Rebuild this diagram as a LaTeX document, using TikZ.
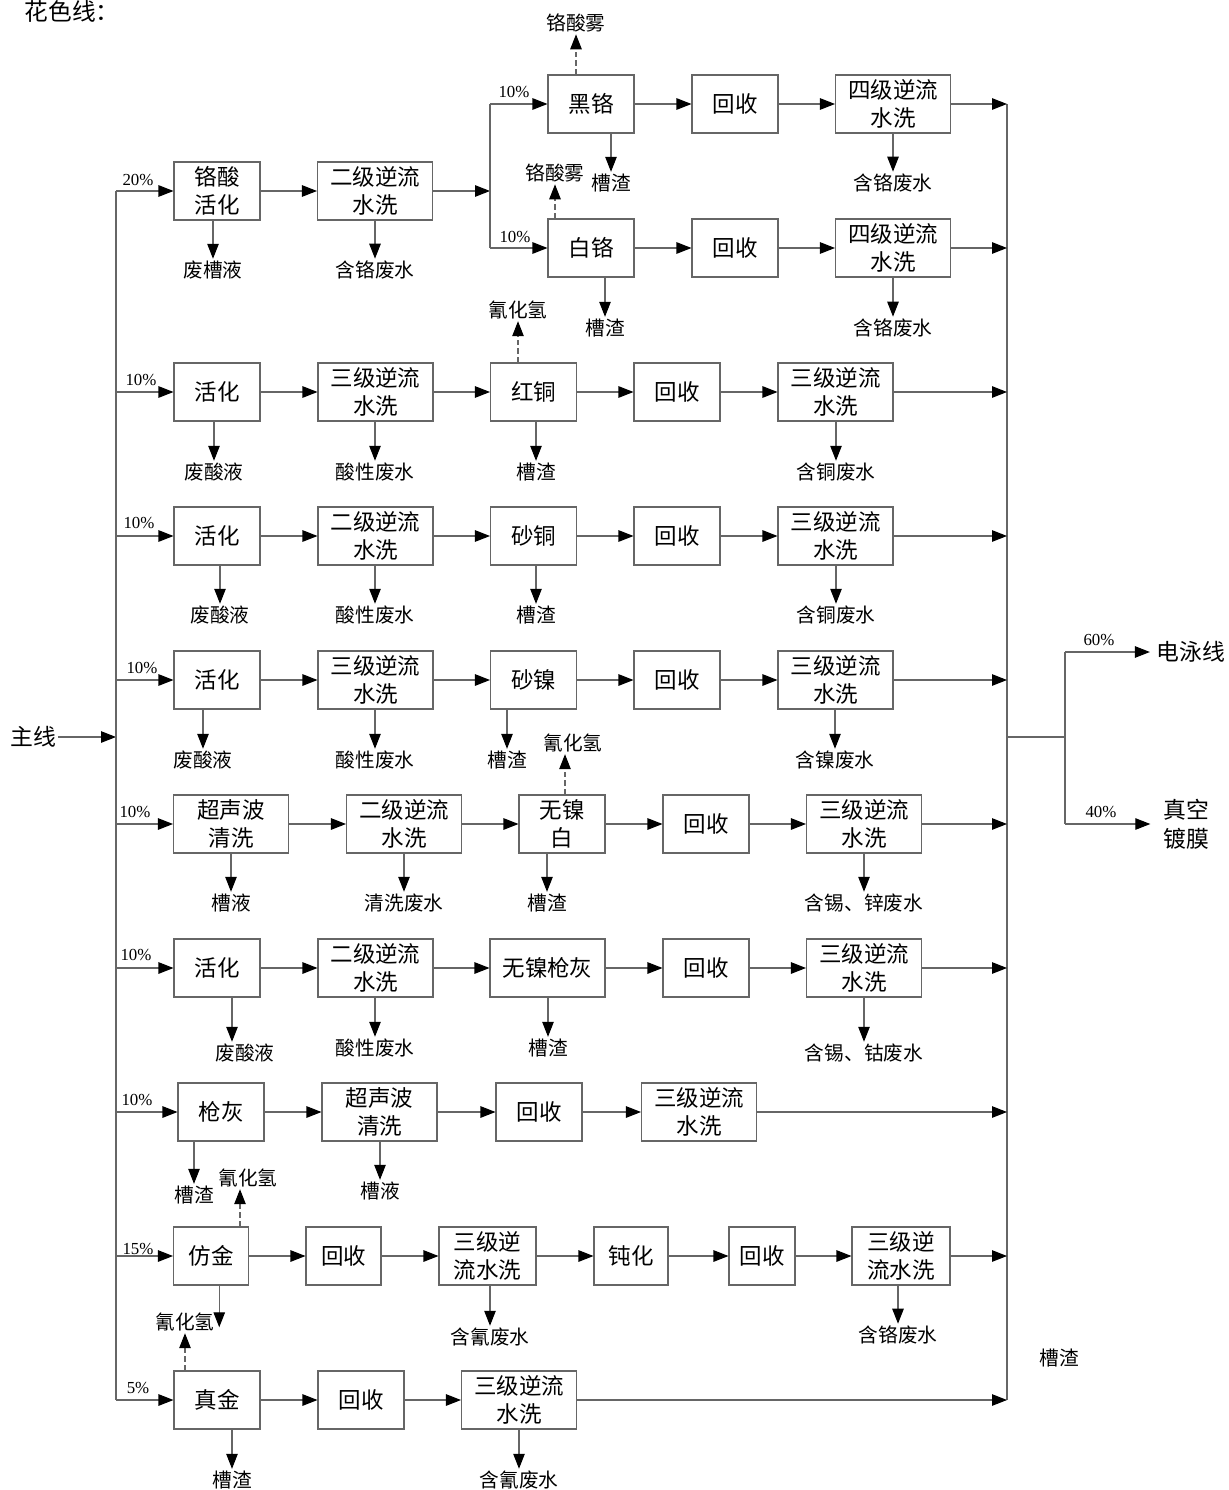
\documentclass[tikz,border=0pt]{standalone}
\usepackage{fontspec}
\setmainfont{Liberation Serif}
\newfontfamily\cjk{Noto Sans CJK SC}
\usetikzlibrary{positioning,arrows.meta,calc}
\tikzset{
  proc/.style={draw=black!60, line width=0.6pt, minimum width=1.72cm, minimum height=1.16cm,
    inner sep=0pt, align=center, font=\cjk\fontsize{12.8}{15.8}\selectfont},
  procw/.style={proc, minimum width=2.3cm},
  waste/.style={inner sep=1pt, font=\cjk\fontsize{11.2}{13}\selectfont},
  big/.style={inner sep=1pt, align=center, font=\cjk\fontsize{13}{16.4}\selectfont},
  pct/.style={inner sep=0pt, font=\fontsize{9.6}{10}\selectfont},
  pipe/.style={draw=black!60, line width=0.6pt},
  flow/.style={pipe, -{Triangle[length=0.3cm,width=0.23cm,color=black]}},
  fume/.style={flow, dash pattern=on 3pt off 2pt}
}
\begin{document}
\begin{tikzpicture}[x=0.02cm, y=-0.02cm]
    \useasboundingbox (0,0) rectangle (1228,1490);
    \node[big, font=\cjk\fontsize{13.5}{16}\selectfont] (title) at (72,11) {花色线：};

    \node[big] (zx) at (33,737) {主线};
    \coordinate (s0) at (116,737);
    \draw[flow] (zx) -- (s0);
    \coordinate (s1) at (116,191);
    \coordinate (s2) at (116,392);
    \coordinate (s3) at (116,536);
    \coordinate (s4) at (116,680);
    \coordinate (s5) at (116,824);
    \coordinate (s6) at (116,968);
    \coordinate (s7) at (116,1112);
    \coordinate (s8) at (116,1256);
    \coordinate (s9) at (116,1400);
    \draw[pipe] (s1) -- (s9);

    \coordinate (c1) at (1007,104);
    \coordinate (c9) at (1007,1400);
    \draw[pipe] (c1) -- (c9);

    % chrome
    \node[proc]  (b11) at (217,191) {铬酸\\活化};
    \node[procw] (b12) at (375,191) {二级逆流\\水洗};
    \node[pct] (p1) at (138,180) {20\%};
    \coordinate (k0) at (490,191);
    \coordinate (k1) at (490,104);
    \coordinate (k2) at (490,248);
    \draw[flow] (s1) -- (b11);
    \draw[flow] (b11) -- (b12);
    \draw[flow] (b12) -- (k0);
    \draw[pipe] (k1) -- (k2);
    \node[waste] (w11) at (213,270) {废槽液};
    \node[waste] (w12) at (375,270) {含铬废水};
    \draw[flow] (b11.south -| w11) -- (w11);
    \draw[flow] (b12.south -| w12) -- (w12);

    \node[proc]  (hg)  at (591,104) {黑铬};
    \node[proc]  (hs1) at (735,104) {回收};
    \node[procw] (hx1) at (893,104) {四级逆流\\水洗};
    \node[pct] (p1a) at (514,92) {10\%};
    \draw[flow] (k1) -- (hg);
    \draw[flow] (hg) -- (hs1);
    \draw[flow] (hs1) -- (hx1);
    \draw[flow] (hx1) -- (hx1 -| c1);
    \node[waste] (g1a) at (576,23) {铬酸雾};
    \draw[fume] (hg.north -| g1a) -- (g1a);
    \node[waste] (w1a) at (611,183) {槽渣};
    \node[waste] (w1ax) at (893,183) {含铬废水};
    \draw[flow] (hg.south -| w1a) -- (w1a);
    \draw[flow] (hx1.south -| w1ax) -- (w1ax);

    \node[proc]  (bg)  at (591,248) {白铬};
    \node[proc]  (hs2) at (735,248) {回收};
    \node[procw] (hx2) at (893,248) {四级逆流\\水洗};
    \node[pct] (p1b) at (515,237) {10\%};
    \draw[flow] (k2) -- (bg);
    \draw[flow] (bg) -- (hs2);
    \draw[flow] (hs2) -- (hx2);
    \draw[flow] (hx2) -- (hx2 -| c1);
    \node[waste] (g1b) at (555,173) {铬酸雾};
    \draw[fume] (bg.north -| g1b) -- (g1b);
    \node[waste] (w1b) at (605,328) {槽渣};
    \node[waste] (w1bx) at (893,328) {含铬废水};
    \draw[flow] (bg.south -| w1b) -- (w1b);
    \draw[flow] (hx2.south -| w1bx) -- (w1bx);

    % red copper
    \node[proc]  (b21) at (217,392) {活化};
    \node[procw] (b22) at (375.5,392) {三级逆流\\水洗};
    \node[proc]  (b23) at (533.5,392) {红铜};
    \node[proc]  (b24) at (677,392) {回收};
    \node[procw] (b25) at (835.5,392) {三级逆流\\水洗};
    \node[pct] (p2) at (141,380) {10\%};
    \draw[flow] (s2) -- (b21);
    \draw[flow] (b21) -- (b22);
    \draw[flow] (b22) -- (b23);
    \draw[flow] (b23) -- (b24);
    \draw[flow] (b24) -- (b25);
    \draw[flow] (b25) -- (b25 -| c1);
    \node[waste] (g2) at (518,310) {氰化氢};
    \draw[fume] (b23.north -| g2) -- (g2);
    \node[waste] (w21) at (214,472) {废酸液};
    \node[waste] (w22) at (375,472) {酸性废水};
    \node[waste] (w23) at (536,472) {槽渣};
    \node[waste] (w25) at (836,472) {含铜废水};
    \draw[flow] (b21.south -| w21) -- (w21);
    \draw[flow] (b22.south -| w22) -- (w22);
    \draw[flow] (b23.south -| w23) -- (w23);
    \draw[flow] (b25.south -| w25) -- (w25);

    % sand copper
    \node[proc]  (b31) at (217,536) {活化};
    \node[procw] (b32) at (375.5,536) {二级逆流\\水洗};
    \node[proc]  (b33) at (533.5,536) {砂铜};
    \node[proc]  (b34) at (677,536) {回收};
    \node[procw] (b35) at (835.5,536) {三级逆流\\水洗};
    \node[pct] (p3) at (139,523) {10\%};
    \draw[flow] (s3) -- (b31);
    \draw[flow] (b31) -- (b32);
    \draw[flow] (b32) -- (b33);
    \draw[flow] (b33) -- (b34);
    \draw[flow] (b34) -- (b35);
    \draw[flow] (b35) -- (b35 -| c1);
    \node[waste] (w31) at (220,615) {废酸液};
    \node[waste] (w32) at (375,615) {酸性废水};
    \node[waste] (w33) at (536,615) {槽渣};
    \node[waste] (w35) at (836,615) {含铜废水};
    \draw[flow] (b31.south -| w31) -- (w31);
    \draw[flow] (b32.south -| w32) -- (w32);
    \draw[flow] (b33.south -| w33) -- (w33);
    \draw[flow] (b35.south -| w35) -- (w35);

    % sand nickel
    \node[proc]  (b41) at (217,680) {活化};
    \node[procw] (b42) at (375.5,680) {三级逆流\\水洗};
    \node[proc]  (b43) at (533.5,680) {砂镍};
    \node[proc]  (b44) at (677,680) {回收};
    \node[procw] (b45) at (835.5,680) {三级逆流\\水洗};
    \node[pct] (p4) at (142,668) {10\%};
    \draw[flow] (s4) -- (b41);
    \draw[flow] (b41) -- (b42);
    \draw[flow] (b42) -- (b43);
    \draw[flow] (b43) -- (b44);
    \draw[flow] (b44) -- (b45);
    \draw[flow] (b45) -- (b45 -| c1);
    \node[waste] (w41) at (203,760) {废酸液};
    \node[waste] (w42) at (375,760) {酸性废水};
    \node[waste] (w43) at (507,760) {槽渣};
    \node[waste] (w45) at (835,760) {含镍废水};
    \draw[flow] (b41.south -| w41) -- (w41);
    \draw[flow] (b42.south -| w42) -- (w42);
    \draw[flow] (b43.south -| w43) -- (w43);
    \draw[flow] (b45.south -| w45) -- (w45);

    % nickel-free white
    \node[procw] (b51) at (231,824) {超声波\\清洗};
    \node[procw] (b52) at (404,824) {二级逆流\\水洗};
    \node[proc]  (b53) at (562,824) {无镍\\白};
    \node[proc]  (b54) at (706,824) {回收};
    \node[procw] (b55) at (864,824) {三级逆流\\水洗};
    \node[pct] (p5) at (135,812) {10\%};
    \draw[flow] (s5) -- (b51);
    \draw[flow] (b51) -- (b52);
    \draw[flow] (b52) -- (b53);
    \draw[flow] (b53) -- (b54);
    \draw[flow] (b54) -- (b55);
    \draw[flow] (b55) -- (b55 -| c1);
    \node[waste] (g5) at (573,743) {氰化氢};
    \draw[fume] ([xshift=-0.16cm]g5.south |- b53.north) -- ([xshift=-0.16cm]g5.south);
    \node[waste] (w51) at (231,903) {槽液};
    \node[waste] (w52) at (404,903) {清洗废水};
    \node[waste] (w53) at (547,903) {槽渣};
    \node[waste] (w55) at (864,903) {含锡、锌废水};
    \draw[flow] (b51.south -| w51) -- (w51);
    \draw[flow] (b52.south -| w52) -- (w52);
    \draw[flow] (b53.south -| w53) -- (w53);
    \draw[flow] (b55.south -| w55) -- (w55);

    % nickel-free gun grey
    \node[proc]  (b61) at (217,968) {活化};
    \node[procw] (b62) at (375.5,968) {二级逆流\\水洗};
    \node[procw] (b63) at (547.5,968) {无镍枪灰};
    \node[proc]  (b64) at (706,968) {回收};
    \node[procw] (b65) at (864,968) {三级逆流\\水洗};
    \node[pct] (p6) at (136,955) {10\%};
    \draw[flow] (s6) -- (b61);
    \draw[flow] (b61) -- (b62);
    \draw[flow] (b62) -- (b63);
    \draw[flow] (b63) -- (b64);
    \draw[flow] (b64) -- (b65);
    \draw[flow] (b65) -- (b65 -| c1);
    \node[waste] (w61) at (245,1053) {废酸液};
    \node[waste] (w62) at (375,1048) {酸性废水};
    \node[waste] (w63) at (548,1048) {槽渣};
    \node[waste] (w65) at (864,1053) {含锡、钴废水};
    \draw[flow] ([xshift=-0.26cm]w61.north |- b61.south) -- ([xshift=-0.26cm]w61.north);
    \draw[flow] (b62.south -| w62) -- (w62);
    \draw[flow] (b63.south -| w63) -- (w63);
    \draw[flow] (b65.south -| w65) -- (w65);

    % gun grey
    \node[proc]  (b71) at (221,1112) {枪灰};
    \node[procw] (b72) at (379.5,1112) {超声波\\清洗};
    \node[proc]  (b73) at (539,1112) {回收};
    \node[procw] (b74) at (699,1112) {三级逆流\\水洗};
    \node[pct] (p7) at (137,1100) {10\%};
    \draw[flow] (s7) -- (b71);
    \draw[flow] (b71) -- (b72);
    \draw[flow] (b72) -- (b73);
    \draw[flow] (b73) -- (b74);
    \draw[flow] (b74) -- (b74 -| c1);
    \node[waste] (w71) at (194,1195) {槽渣};
    \node[waste] (w72) at (380,1191) {槽液};
    \draw[flow] (b71.south -| w71) -- (w71);
    \draw[flow] (b72.south -| w72) -- (w72);

    % imitation gold
    \node[proc, minimum width=1.5cm]  (b81) at (211,1256) {仿金};
    \node[proc, minimum width=1.5cm]  (b82) at (343.5,1256) {回收};
    \node[proc, minimum width=1.94cm] (b83) at (487.5,1256) {三级逆\\流水洗};
    \node[proc, minimum width=1.48cm] (b84) at (631,1256) {钝化};
    \node[proc, minimum width=1.32cm] (b85) at (762,1256) {回收};
    \node[proc, minimum width=1.96cm] (b86) at (901,1256) {三级逆\\流水洗};
    \node[pct] (p8) at (138,1249) {15\%};
    \draw[flow] (s8) -- (b81);
    \draw[flow] (b81) -- (b82);
    \draw[flow] (b82) -- (b83);
    \draw[flow] (b83) -- (b84);
    \draw[flow] (b84) -- (b85);
    \draw[flow] (b85) -- (b86);
    \draw[flow] (b86) -- (b86 -| c1);
    \node[waste] (g7) at (248,1178) {氰化氢};
    \draw[fume] ([xshift=-0.16cm]g7.south |- b81.north) -- ([xshift=-0.16cm]g7.south);
    \node[waste] (w81) at (185,1322) {氰化氢};
    \draw[flow] ([xshift=1.5pt]w81.east |- b81.south) -- ([xshift=1.5pt,yshift=-3pt]w81.east);
    \node[waste] (w83) at (490,1337) {含氰废水};
    \node[waste] (w86) at (898,1335) {含铬废水};
    \draw[flow] (b83.south -| w83) -- (w83);
    \draw[flow] (b86.south -| w86) -- (w86);
    \node[waste] (xz) at (1059,1358) {槽渣};

    % real gold
    \node[proc]  (b91) at (217,1400) {真金};
    \node[proc]  (b92) at (361,1400) {回收};
    \node[procw] (b93) at (519,1400) {三级逆流\\水洗};
    \node[pct] (p9) at (138,1388) {5\%};
    \draw[flow] (s9) -- (b91);
    \draw[flow] (b91) -- (b92);
    \draw[flow] (b92) -- (b93);
    \draw[flow] (b93) -- (c9);
    \draw[fume] (b91.north -| w81) -- (w81);
    \node[waste] (w91) at (232,1480) {槽渣};
    \node[waste] (w93) at (519,1480) {含氰废水};
    \draw[flow] (b91.south -| w91) -- (w91);
    \draw[flow] (b93.south -| w93) -- (w93);

    % split to next lines
    \coordinate (f0) at (1007,737);
    \coordinate (f1) at (1065,737);
    \coordinate (f2) at (1065,652);
    \coordinate (f3) at (1065,824);
    \draw[pipe] (f0) -- (f1);
    \draw[pipe] (f2) -- (f3);
    \node[big, inner xsep=0.13cm] (dy) at (1191,652) {电泳线};
    \node[big, inner xsep=0.25cm] (zk) at (1186,824) {真空\\镀膜};
    \node[pct] (p60) at (1099,640) {60\%};
    \node[pct] (p40) at (1101,812) {40\%};
    \draw[flow] (f2) -- (dy);
    \draw[flow] (f3) -- (zk);
\end{tikzpicture}
\end{document}
